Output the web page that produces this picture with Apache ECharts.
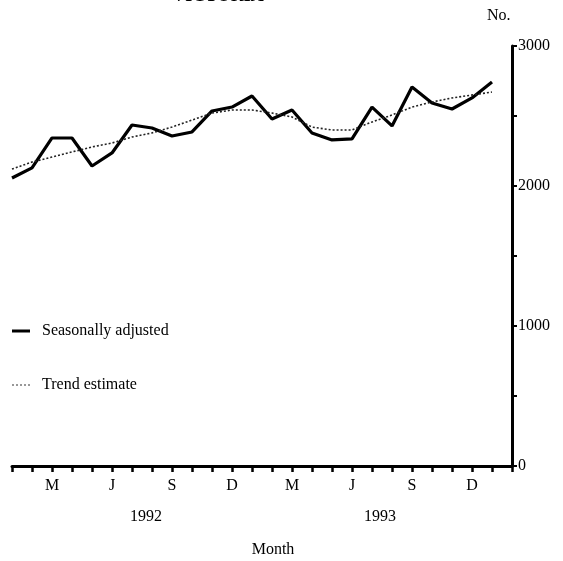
<!DOCTYPE html>
<html>
<head>
<meta charset="utf-8">
<script src="https://cdn.jsdelivr.net/npm/echarts@6/dist/echarts.min.js"></script>
<style>html,body{margin:0;padding:0;background:#fff;}#c{width:563px;height:561px;}</style>
</head>
<body>
<div id="c"></div>
<script>
const categories = ['1992-01','1992-02','1992-03','1992-04','1992-05','1992-06','1992-07','1992-08','1992-09','1992-10','1992-11','1992-12',
  '1993-01','1993-02','1993-03','1993-04','1993-05','1993-06','1993-07','1993-08','1993-09','1993-10','1993-11','1993-12',
  '1994-01','1994-02'];
const monthLetters = {'03':'M','06':'J','09':'S','12':'D'};
const seasonallyAdjusted = [2057,2129,2343,2343,2143,2236,2436,2414,2357,2386,2536,2564,
  2643,2479,2543,2379,2329,2336,2564,2429,2707,2593,2550,2629,2743,null];
const trendEstimate = [2121,2171,2207,2243,2279,2307,2350,2379,2421,2471,2521,2543,
  2543,2521,2493,2421,2400,2400,2457,2507,2564,2600,2629,2650,2671,null];
const yearLabels = [{text:'1992', at:'1992-07', offset:0.7},{text:'1993', at:'1993-07', offset:0.4}];
const serif = '"Liberation Serif", "DejaVu Serif", serif';

const chart = echarts.init(document.getElementById('c'));
const option = {
  animation: false,
  backgroundColor: '#fff',
  grid: {left: 12, right: 51, top: 46, bottom: 95},
  legend: {
    orient: 'vertical', left: 7, top: 318, itemGap: 38, itemWidth: 18, itemHeight: 8,
    textStyle: {fontFamily: serif, fontSize: 16, color: '#000', padding: [0,0,0,7]},
    data: [
      {name: 'Seasonally adjusted', icon: 'path://M0,3h18v3h-18z', itemStyle: {color: '#000'}},
      {name: 'Trend estimate', icon: 'path://M0,4h2v1h-2zM4,4h2v1h-2zM8,4h2v1h-2zM12,4h2v1h-2zM16,4h2v1h-2z', itemStyle: {color: '#333'}}
    ]
  },
  xAxis: {
    type: 'category', data: categories, boundaryGap: false,
    axisLine: {lineStyle: {color: '#000', width: 3}},
    axisTick: {interval: 0, length: 6, lineStyle: {color: '#000', width: 2.5}},
    axisLabel: {interval: 0, margin: 12, fontFamily: serif, fontSize: 16, color: '#000',
      formatter: v => monthLetters[v.slice(5)] || ''},
    splitLine: {show: false}
  },
  yAxis: {
    type: 'value', position: 'right', min: 0, max: 3000, interval: 500,
    axisLine: {show: true, lineStyle: {color: '#000', width: 3}},
    axisTick: {show: true, length: 5, lineStyle: {color: '#000', width: 2}},
    axisLabel: {margin: 6, fontFamily: serif, fontSize: 16, color: '#000',
      formatter: v => (v % 1000 === 0 ? String(v) : '')},
    splitLine: {show: false},
    name: 'No.', nameLocation: 'end', nameGap: 22,
    nameTextStyle: {fontFamily: serif, fontSize: 16, color: '#000', align: 'left', padding: [0,0,0,-25]}
  },
  series: [
    {name: 'Seasonally adjusted', type: 'line', data: seasonallyAdjusted, symbol: 'none',
     lineStyle: {color: '#000', width: 3.2}, itemStyle: {color: '#000'}},
    {name: 'Trend estimate', type: 'line', data: trendEstimate, symbol: 'none',
     lineStyle: {color: '#222', width: 1.6, type: [2, 2]}, itemStyle: {color: '#222'}}
  ]
};
chart.setOption(option);

const graphics = [
  {type: 'text', x: 218, y: -13,
   style: {text: 'VICTORIA', fontFamily: serif, fontSize: 18, fontWeight: 'bold', fill: '#000', align: 'center'}}
];
yearLabels.forEach(y => {
  const idx = categories.indexOf(y.at);
  const px = chart.convertToPixel({xAxisIndex: 0}, idx);
  const step = chart.convertToPixel({xAxisIndex: 0}, idx + 1) - px;
  graphics.push({type: 'text', x: px + step * y.offset, y: 509,
    style: {text: y.text, fontFamily: serif, fontSize: 16, fill: '#000', align: 'center'}});
});
graphics.push({type: 'text', x: 273, y: 542,
  style: {text: 'Month', fontFamily: serif, fontSize: 16, fill: '#000', align: 'center'}});
chart.setOption({graphic: graphics});
</script>
</body>
</html>
